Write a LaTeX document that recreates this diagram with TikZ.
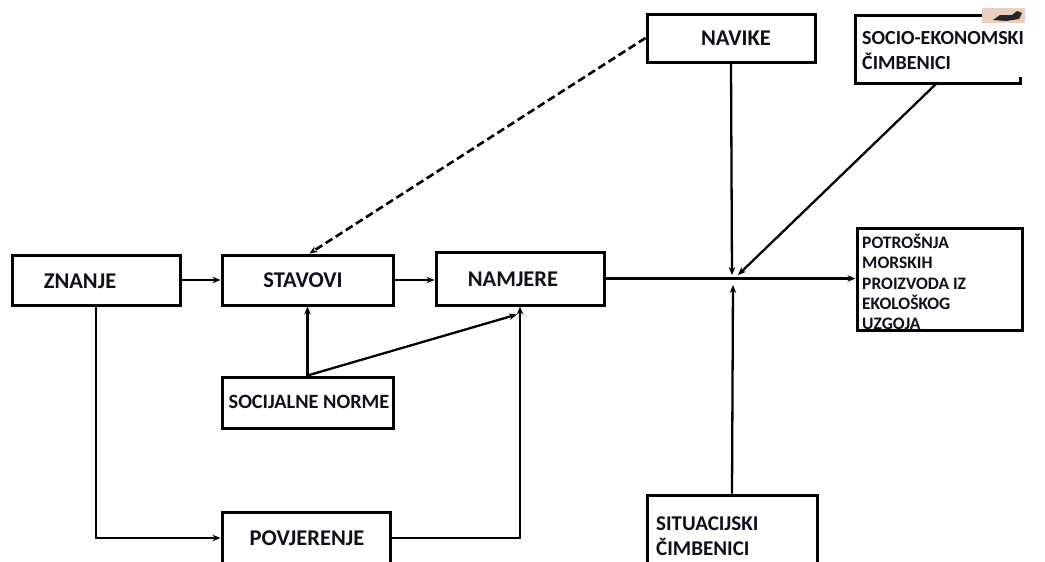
\documentclass[tikz,border=0pt]{standalone}
\usepackage{fontspec}
\setmainfont{Carlito}
\usetikzlibrary{arrows.meta,calc}
\definecolor{iconpink}{RGB}{236,206,190}
\definecolor{txt}{RGB}{15,15,30}
\tikzset{
  box/.style={draw,line width=3pt,inner sep=0pt,rectangle},
  lbl/.style={font=\bfseries\fontsize{22.5}{26}\selectfont,text=txt,inner sep=0pt},
  smalllbl/.style={font=\bfseries\fontsize{17.5}{20.3}\selectfont,text=txt,inner sep=0pt,align=left,anchor=north west},
  midlbl/.style={font=\bfseries\fontsize{20}{25.5}\selectfont,text=txt,inner sep=0pt,align=left,anchor=north west},
  sitlbl/.style={font=\bfseries\fontsize{21}{24.5}\selectfont,text=txt,inner sep=0pt,align=left,anchor=north west},
  conn/.style={line width=2.3pt},
  arr/.style={conn,-{Stealth[length=8pt,width=6.5pt]}},
  dasharr/.style={arr,line width=2.6pt,dash pattern=on 8pt off 4pt}
}
\begin{document}
\begin{tikzpicture}[x=1pt,y=-1pt]
\useasboundingbox (0,0) rectangle (1045,562);
\clip (0,0) rectangle (1045,562);
\fill[white] (0,0) rectangle (1045,562);

% boxes
\node[box,minimum width=168,minimum height=50] (znanje) at (96,280) {};
\node[box,minimum width=171,minimum height=50] (stavovi) at (307.5,280) {};
\node[box,minimum width=168,minimum height=53] (namjere) at (520,278.5) {};
\node[box,minimum width=171,minimum height=51] (norme) at (307.5,402.5) {};
\node[box,minimum width=168,minimum height=52] (povjerenje) at (306,538) {};
\node[box,minimum width=168,minimum height=48] (navike) at (731,38) {};
\node[box,minimum width=170,minimum height=100] (situacijski) at (732,545) {};
\node[box,minimum width=165,minimum height=102] (potrosnja) at (939.5,279) {};

% socio-ekonomski box (open at top right)
\draw[line width=3pt] (983,15) -- (855,15) -- (855,83) -- (1020,83) -- (1020,77);
\fill[iconpink] (982,8) rectangle (1025,23);
\fill[black!85] (993,20) -- (1000,15) -- (1012,15) -- (1017,11) -- (1022,13) -- (1019,19) -- (1006,21) -- cycle;
\coordinate (socio) at (937,83);

% labels
\node[lbl] (tznanje) at (80,281) {ZNANJE};
\node[lbl] (tstavovi) at (303,280) {STAVOVI};
\node[lbl] (tnamjere) at (513,279) {NAMJERE};
\node[lbl,font=\bfseries\fontsize{20.3}{24}\selectfont] (tnorme) at (309,402) {SOCIJALNE NORME};
\node[lbl] (tpovj) at (307,538) {POVJERENJE};
\node[lbl] (tnavike) at (736,38) {NAVIKE};
\node[midlbl] (tsocio) at (862,31) {SOCIO-EKONOMSKI\\ČIMBENICI};
\node[sitlbl] (tsit) at (656,517) {SITUACIJSKI\\ČIMBENICI};
\node[smalllbl] (tpotr) at (862,234) {POTROŠNJA\\MORSKIH\\PROIZVODA IZ\\EKOLOŠKOG\\UZGOJA};

% hub
\coordinate (hub) at (732,278);

% connectors
\draw[arr] (znanje.east) -- (stavovi.west);
\draw[arr] (stavovi.east) -- (stavovi.east -| namjere.west);
\draw[arr] (namjere.east) -- (namjere.east -| potrosnja.west);
\draw[arr] (navike.south) -- ($(hub)+(0,-3)$);
\draw[arr] (socio) -- ($(hub)+(6,-3)$);
\draw[arr] (situacijski.north) -- ($(hub)+(1,7)$);
\draw[dasharr] (navike.west) -- ($(stavovi.north)+(2,0)$);
\draw[arr] (norme.north) -- (stavovi.south);
\draw[arr] (norme.north) -- ($(namjere.south)+(-3,8)$);
\draw[arr] (povjerenje.east) -| (namjere.south);
\draw[arr] (znanje.south) |- (povjerenje.west);
\end{tikzpicture}
\end{document}
